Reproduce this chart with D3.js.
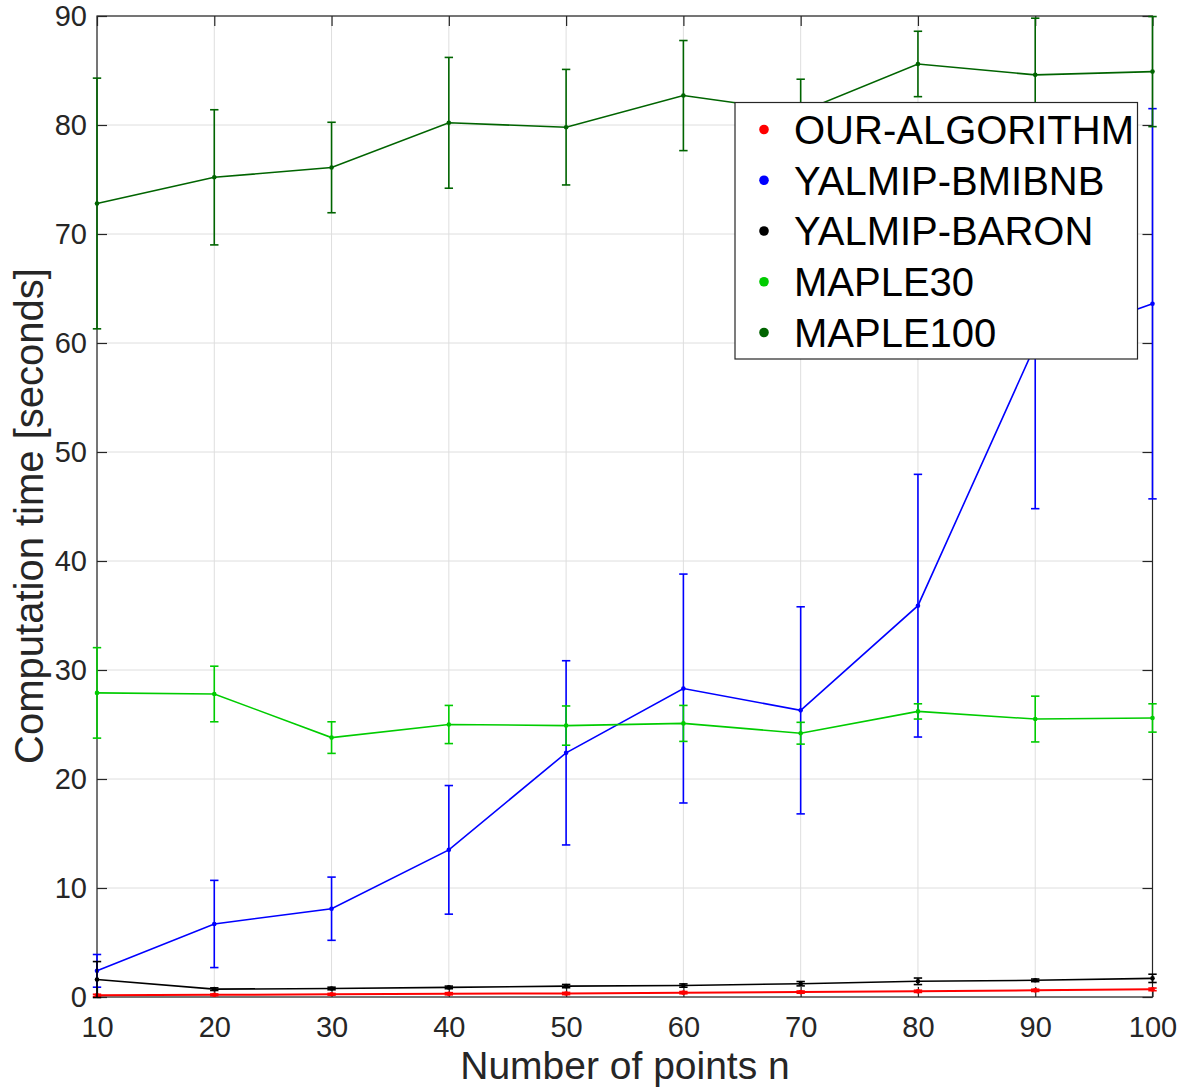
<!DOCTYPE html>
<html>
<head>
<meta charset="utf-8">
<script src="https://cdn.jsdelivr.net/npm/d3@7"></script>
<style>
  html, body { margin: 0; padding: 0; background: #fff; }
  svg { display: block; }
  text { font-family: "Liberation Sans", Arial, Helvetica, sans-serif; }
</style>
</head>
<body>
<svg id="chart" width="1189" height="1089"></svg>
<script>
// ---- data ----
const nValues = [10, 20, 30, 40, 50, 60, 70, 80, 90, 100];
const seriesNames = ["OUR-ALGORITHM", "YALMIP-BMIBNB", "YALMIP-BARON", "MAPLE30", "MAPLE100"];
const seriesColors = ["#ff0000", "#0000ff", "#000000", "#00cc00", "#006400"];

const ourMean   = [0.15, 0.2, 0.25, 0.3, 0.32, 0.4, 0.45, 0.52, 0.61, 0.7];
const ourErr    = [0.1, 0.08, 0.08, 0.1, 0.1, 0.1, 0.1, 0.1, 0.1, 0.12];
const bmibnbMean = [2.4, 6.7, 8.1, 13.5, 22.4, 28.3, 26.3, 35.9, 59.8, 63.6];
const bmibnbErr  = [1.5, 4.0, 2.9, 5.9, 8.45, 10.5, 9.5, 12.05, 15.0, 17.9];
const baronMean = [1.6, 0.72, 0.78, 0.88, 1.0, 1.05, 1.22, 1.44, 1.53, 1.71];
const baronErr  = [1.65, 0.12, 0.12, 0.12, 0.15, 0.15, 0.2, 0.3, 0.12, 0.38];
const maple30Mean = [27.9, 27.8, 23.8, 25.0, 24.9, 25.1, 24.2, 26.2, 25.5, 25.6];
const maple30Err  = [4.15, 2.55, 1.45, 1.75, 1.8, 1.65, 1.0, 0.7, 2.1, 1.3];
const maple100Mean = [72.8, 75.2, 76.1, 80.2, 79.8, 82.7, 81.2, 85.6, 84.6, 84.9];
const maple100Err  = [11.5, 6.2, 4.15, 6.0, 5.3, 5.05, 3.0, 3.0, 5.2, 5.05];

const xTicks = [10, 20, 30, 40, 50, 60, 70, 80, 90, 100];
const yTicks = [0, 10, 20, 30, 40, 50, 60, 70, 80, 90];
const xLabel = "Number of points n";
const yLabel = "Computation time [seconds]";

const means = [ourMean, bmibnbMean, baronMean, maple30Mean, maple100Mean];
const errs = [ourErr, bmibnbErr, baronErr, maple30Err, maple100Err];

// ---- layout ----
const pL = 97, pR = 1152.5, pT = 16, pB = 997;
const axisColor = "#262626";
const x = d3.scaleLinear().domain([10, 100]).range([pL, pR]);
const y = d3.scaleLinear().domain([0, 90]).range([pB, pT]);

const svg = d3.select("#chart");

// grid
const grid = svg.append("g");
grid.selectAll("line.gx").data(xTicks).join("line").attr("class", "gx")
  .attr("x1", d => x(d)).attr("x2", d => x(d)).attr("y1", pT).attr("y2", pB)
  .attr("stroke", "#dedede").attr("stroke-width", 1);
grid.selectAll("line.gy").data(yTicks).join("line").attr("class", "gy")
  .attr("x1", pL).attr("x2", pR).attr("y1", d => y(d)).attr("y2", d => y(d))
  .attr("stroke", "#dedede").attr("stroke-width", 1);

// axes box + ticks
svg.append("rect").attr("x", pL).attr("y", pT).attr("width", pR - pL).attr("height", pB - pT)
  .attr("fill", "none").attr("stroke", axisColor).attr("stroke-width", 1.2);

const tickLen = 10;
const gxb = svg.append("g").attr("transform", `translate(0,${pB})`)
  .call(d3.axisBottom(x).tickValues(xTicks).tickSizeInner(-tickLen).tickSizeOuter(0).tickPadding(19));
const gxt = svg.append("g").attr("transform", `translate(0,${pT})`)
  .call(d3.axisTop(x).tickValues(xTicks).tickSizeInner(-tickLen).tickSizeOuter(0).tickFormat(""));
const gyl = svg.append("g").attr("transform", `translate(${pL},0)`)
  .call(d3.axisLeft(y).tickValues(yTicks).tickSizeInner(-tickLen).tickSizeOuter(0).tickPadding(10));
const gyr = svg.append("g").attr("transform", `translate(${pR},0)`)
  .call(d3.axisRight(y).tickValues(yTicks).tickSizeInner(-tickLen).tickSizeOuter(0).tickFormat(""));

[gxb, gxt, gyl, gyr].forEach(g => {
  g.select(".domain").remove();
  g.selectAll(".tick line").attr("stroke", axisColor).attr("stroke-width", 1.2);
  g.selectAll(".tick text").attr("fill", axisColor).attr("font-size", 29)
    .attr("font-family", "'Liberation Sans', Arial, sans-serif");
});

// series
const plot = svg.append("g");
const capHalf = 4.2;
seriesNames.forEach((name, si) => {
  const data = nValues.map((n, i) => ({ n, m: means[si][i], e: errs[si][i] }));
  const g = plot.append("g");
  const col = seriesColors[si];
  const eb = g.selectAll("g.eb").data(data).join("g").attr("class", "eb");
  eb.append("line").attr("x1", d => x(d.n)).attr("x2", d => x(d.n))
    .attr("y1", d => y(d.m - d.e)).attr("y2", d => y(d.m + d.e))
    .attr("stroke", col).attr("stroke-width", 1.6);
  eb.append("line").attr("x1", d => x(d.n) - capHalf).attr("x2", d => x(d.n) + capHalf)
    .attr("y1", d => y(d.m + d.e)).attr("y2", d => y(d.m + d.e))
    .attr("stroke", col).attr("stroke-width", 1.6);
  eb.append("line").attr("x1", d => x(d.n) - capHalf).attr("x2", d => x(d.n) + capHalf)
    .attr("y1", d => y(d.m - d.e)).attr("y2", d => y(d.m - d.e))
    .attr("stroke", col).attr("stroke-width", 1.6);
  g.append("path").datum(data)
    .attr("d", d3.line().x(d => x(d.n)).y(d => y(d.m)))
    .attr("fill", "none").attr("stroke", col).attr("stroke-width", si === 0 ? 2 : 1.6);
  g.selectAll("circle").data(data).join("circle")
    .attr("cx", d => x(d.n)).attr("cy", d => y(d.m)).attr("r", 2.3).attr("fill", col);
});

// axis labels
svg.append("text").attr("x", 625).attr("y", 1079).attr("text-anchor", "middle")
  .attr("font-size", 39).attr("fill", axisColor).text(xLabel);
svg.append("text").attr("transform", "translate(43,516) rotate(-90)").attr("text-anchor", "middle")
  .attr("font-size", 40).attr("fill", axisColor).text(yLabel);

// legend
const lg = svg.append("g");
const lgX = 735, lgY = 102.5, lgW = 402.5, lgH = 256.5;
lg.append("rect").attr("x", lgX).attr("y", lgY).attr("width", lgW).attr("height", lgH)
  .attr("fill", "#fff").attr("stroke", axisColor).attr("stroke-width", 1.2);
const rowY = d3.scalePoint().domain(seriesNames).range([129.5, 332.5]);
seriesNames.forEach((name, i) => {
  lg.append("circle").attr("cx", 764).attr("cy", rowY(name)).attr("r", 4.8).attr("fill", seriesColors[i]);
  lg.append("text").attr("x", 794).attr("y", rowY(name)).attr("dy", "0.36em")
    .attr("font-size", 40).attr("fill", "#000").text(name);
});
</script>
</body>
</html>
